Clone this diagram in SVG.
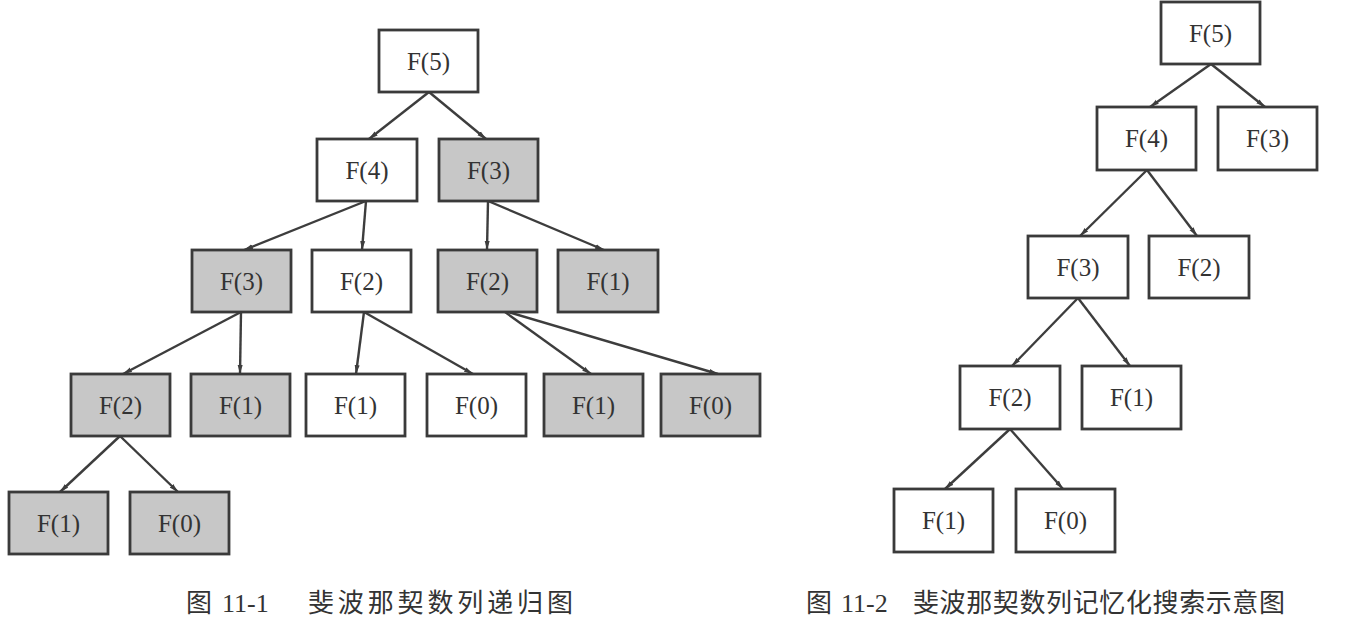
<svg xmlns="http://www.w3.org/2000/svg" width="1351" height="622" viewBox="0 0 1351 622">
<defs>
<style>
.n rect{stroke:#3a3a3a;stroke-width:2.8;fill:#ffffff}
.n.g rect{fill:#c7c7c7}
.n text{font-family:"Liberation Serif","Times New Roman",serif;font-size:25px;fill:#333;text-anchor:middle}
.e line{stroke:#3d3d3d;stroke-width:2.4;marker-end:url(#ah)}
.cap{font-family:"Liberation Serif","Times New Roman",serif;font-size:26px;fill:#333}
.cj{font-family:"Noto Sans CJK SC",sans-serif;font-size:26px;fill:#333}
</style>
<marker id="ah" markerUnits="userSpaceOnUse" markerWidth="10" markerHeight="6" refX="9" refY="3" orient="auto">
<path d="M0,0.5 L9,3 L0,5.5 z" fill="#3d3d3d"/>
</marker>
</defs>
<rect width="1351" height="622" fill="#ffffff"/>

<g id="connectors" class="e">
<line x1="429" y1="92" x2="369" y2="139"/>
<line x1="429" y1="92" x2="486" y2="139"/>
<line x1="366" y1="201" x2="244" y2="250"/>
<line x1="366" y1="201" x2="362" y2="250"/>
<line x1="488" y1="201" x2="487" y2="250"/>
<line x1="488" y1="201" x2="604" y2="250"/>
<line x1="241" y1="312" x2="123" y2="374"/>
<line x1="241" y1="312" x2="240" y2="374"/>
<line x1="364" y1="312" x2="356" y2="374"/>
<line x1="364" y1="312" x2="473" y2="374"/>
<line x1="505" y1="312" x2="591" y2="374"/>
<line x1="508" y1="312" x2="718" y2="374"/>
<line x1="120" y1="436" x2="60" y2="492"/>
<line x1="120" y1="436" x2="178" y2="492"/>
<line x1="1211" y1="64" x2="1150" y2="107"/>
<line x1="1211" y1="64" x2="1265" y2="107"/>
<line x1="1147" y1="170" x2="1080" y2="236"/>
<line x1="1147" y1="170" x2="1197" y2="236"/>
<line x1="1078" y1="298" x2="1012" y2="366"/>
<line x1="1078" y1="298" x2="1130" y2="366"/>
<line x1="1010" y1="429" x2="945" y2="489"/>
<line x1="1010" y1="429" x2="1063" y2="489"/>
</g>

<g id="L5" class="n"><rect x="379" y="30" width="99" height="62"/><text x="428.5" y="70">F(5)</text></g>
<g id="L4" class="n"><rect x="317" y="139" width="100" height="62"/><text x="367" y="179">F(4)</text></g>
<g id="L3a" class="n g"><rect x="439" y="139" width="99" height="62"/><text x="488.5" y="179">F(3)</text></g>
<g id="L3b" class="n g"><rect x="192" y="250" width="99" height="62"/><text x="241.5" y="290">F(3)</text></g>
<g id="L2a" class="n"><rect x="312" y="250" width="99" height="62"/><text x="361.5" y="290">F(2)</text></g>
<g id="L2b" class="n g"><rect x="438" y="250" width="99" height="62"/><text x="487.5" y="290">F(2)</text></g>
<g id="L1a" class="n g"><rect x="558" y="250" width="100" height="62"/><text x="608" y="290">F(1)</text></g>
<g id="L2c" class="n g"><rect x="71" y="374" width="99" height="62"/><text x="120.5" y="414">F(2)</text></g>
<g id="L1b" class="n g"><rect x="191" y="374" width="99" height="62"/><text x="240.5" y="414">F(1)</text></g>
<g id="L1c" class="n"><rect x="306" y="374" width="99" height="62"/><text x="355.5" y="414">F(1)</text></g>
<g id="L0a" class="n"><rect x="427" y="374" width="99" height="62"/><text x="476.5" y="414">F(0)</text></g>
<g id="L1d" class="n g"><rect x="544" y="374" width="99" height="62"/><text x="593.5" y="414">F(1)</text></g>
<g id="L0b" class="n g"><rect x="661" y="374" width="99" height="62"/><text x="710.5" y="414">F(0)</text></g>
<g id="L1e" class="n g"><rect x="9" y="492" width="99" height="62"/><text x="58.5" y="532">F(1)</text></g>
<g id="L0c" class="n g"><rect x="130" y="492" width="99" height="62"/><text x="179.5" y="532">F(0)</text></g>

<g id="R5" class="n"><rect x="1161" y="2" width="99" height="62"/><text x="1210.5" y="42">F(5)</text></g>
<g id="R4" class="n"><rect x="1097" y="107" width="99" height="63"/><text x="1146.5" y="147">F(4)</text></g>
<g id="R3a" class="n"><rect x="1218" y="107" width="99" height="63"/><text x="1267.5" y="147">F(3)</text></g>
<g id="R3b" class="n"><rect x="1028" y="236" width="100" height="62"/><text x="1078" y="276">F(3)</text></g>
<g id="R2a" class="n"><rect x="1149" y="236" width="100" height="62"/><text x="1199" y="276">F(2)</text></g>
<g id="R2b" class="n"><rect x="960" y="366" width="100" height="63"/><text x="1010" y="406">F(2)</text></g>
<g id="R1a" class="n"><rect x="1082" y="366" width="99" height="63"/><text x="1131.5" y="406">F(1)</text></g>
<g id="R1b" class="n"><rect x="894" y="489" width="99" height="63"/><text x="943.5" y="529">F(1)</text></g>
<g id="R0" class="n"><rect x="1016" y="489" width="99" height="63"/><text x="1065.5" y="529">F(0)</text></g>

<g id="caption1">
<text class="cj" x="186" y="612">图</text>
<text class="cap" x="222" y="612">11-1</text>
<text class="cj" x="308" y="612" textLength="265" lengthAdjust="spacing">斐波那契数列递归图</text>
</g>
<g id="caption2">
<text class="cj" x="806" y="612">图</text>
<text class="cap" x="841" y="612">11-2</text>
<text class="cj" x="913" y="612" textLength="372" lengthAdjust="spacing">斐波那契数列记忆化搜索示意图</text>
</g>
</svg>
